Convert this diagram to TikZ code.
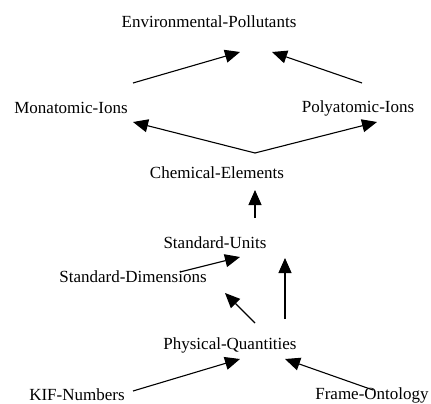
\documentclass[tikz,border=0pt]{standalone}
\usepackage{fontspec}
\setmainfont{Liberation Serif}
\usetikzlibrary{arrows.meta,calc}
\begin{document}
\begin{tikzpicture}[x=1pt,y=-1pt,
  term/.style={inner sep=0pt,font=\fontsize{17}{19}\selectfont},
  arr/.style={line width=1.1pt,-{Triangle[length=15pt,width=13pt]}}]
\useasboundingbox (0,0) rectangle (431,404);
% concepts
\node[term] (env)   at (209,22)  {Environmental-Pollutants};
\node[term] (mono)  at (71,108)  {Monatomic-Ions};
\node[term] (poly)  at (358,108) {Polyatomic-Ions};
\node[term] (chem)  at (217,173) {Chemical-Elements};
\node[term] (units) at (215,243) {Standard-Units};
\node[term] (dims)  at (133,277) {Standard-Dimensions};
\node[term] (phys)  at (230,345) {Physical-Quantities};
\node[term] (kif)   at (77,395)  {KIF-Numbers};
\node[term] (frame) at (372,395) {Frame-Ontology};
% specialisation links
\draw[arr] ($(mono)+(62,-25)$) -- ($(env)+(31,30)$);
\draw[arr] ($(poly)+(4,-25)$) -- ($(env)+(63,30)$);
\draw[arr] ($(chem)+(38,-20)$) -- ($(mono)+(62,14)$);
\draw[arr] ($(chem)+(38,-20)$) -- ($(poly)+(19,14)$);
\draw[arr] ($(units)+(40,-25)$) -- ($(chem)+(38,17)$);
\draw[arr] ($(dims)+(47,-5)$) -- ($(units)+(25,14)$);
\draw[arr] ($(phys)+(55,-26)$) -- ($(units)+(70,15)$);
\draw[arr] ($(phys)+(25,-22)$) -- ($(dims)+(92,16)$);
\draw[arr] ($(kif)+(56,-4)$) -- ($(phys)+(10,14)$);
\draw[arr] ($(frame)+(1,-5)$) -- ($(phys)+(55,14)$);
\end{tikzpicture}
\end{document}
